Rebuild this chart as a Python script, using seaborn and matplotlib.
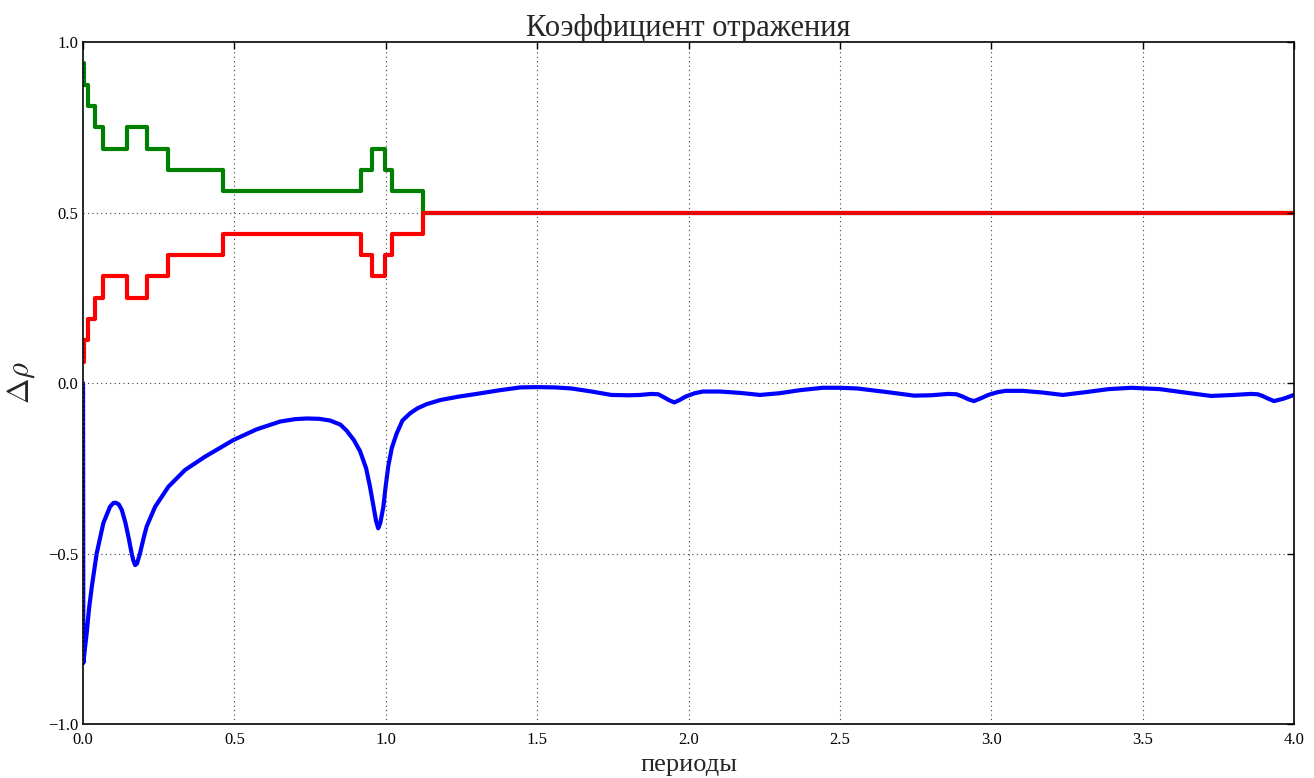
import pandas as pd
import seaborn as sns
import matplotlib
matplotlib.use("Agg")
import matplotlib.pyplot as plt

# step lines (upper / lower bound)
step_x = [0.0, 0.002, 0.0175, 0.04, 0.067, 0.144, 0.21, 0.282, 0.463,
          0.918, 0.953, 0.998, 1.022, 1.124, 4.0]
green_y = [0.9375, 0.875, 0.8125, 0.75, 0.6875, 0.75, 0.6875, 0.625, 0.5625,
           0.625, 0.6875, 0.625, 0.5625, 0.5, 0.5]
red_y = [0.0625, 0.125, 0.1875, 0.25, 0.3125, 0.25, 0.3125, 0.375, 0.4375,
         0.375, 0.3125, 0.375, 0.4375, 0.5, 0.5]

# delta rho curve
blue_x = [0.0, 0.001, 0.006, 0.012, 0.02, 0.029, 0.045, 0.067, 0.089, 0.1, 0.108,
          0.118, 0.128, 0.14, 0.15, 0.16, 0.166, 0.172, 0.178, 0.188, 0.2,
          0.21, 0.238, 0.282, 0.337, 0.403, 0.497, 0.573, 0.651, 0.7, 0.739,
          0.78, 0.816, 0.85, 0.871, 0.895, 0.915, 0.935, 0.948, 0.96, 0.968,
          0.975, 0.982, 0.992, 1.0, 1.008, 1.02, 1.036, 1.055, 1.08, 1.105,
          1.135, 1.18, 1.24, 1.3, 1.37, 1.443, 1.5, 1.56, 1.613, 1.68, 1.745,
          1.8, 1.84, 1.877, 1.9, 1.915, 1.935, 1.953, 1.97, 1.99, 2.02, 2.047,
          2.104, 2.17, 2.236, 2.3, 2.368, 2.443, 2.5, 2.557, 2.65, 2.745, 2.8,
          2.858, 2.885, 2.906, 2.925, 2.943, 2.965, 2.99, 3.02, 3.047, 3.104,
          3.17, 3.236, 3.31, 3.387, 3.462, 3.557, 3.64, 3.726, 3.8, 3.858,
          3.88, 3.896, 3.915, 3.934, 3.965, 4.0]
blue_y = [0.0, -0.821, -0.78, -0.734, -0.66, -0.597, -0.5, -0.411, -0.363,
          -0.352, -0.351, -0.356, -0.372, -0.41, -0.451, -0.497, -0.52,
          -0.534, -0.53, -0.5, -0.455, -0.421, -0.363, -0.304, -0.255,
          -0.216, -0.167, -0.136, -0.113, -0.106, -0.104, -0.105, -0.11,
          -0.122, -0.14, -0.168, -0.2, -0.25, -0.305, -0.365, -0.405, -0.426,
          -0.41, -0.363, -0.3, -0.245, -0.19, -0.148, -0.11, -0.089, -0.074,
          -0.062, -0.05, -0.04, -0.032, -0.022, -0.013, -0.012, -0.013,
          -0.016, -0.025, -0.035, -0.036, -0.035, -0.032, -0.033, -0.04,
          -0.05, -0.057, -0.05, -0.04, -0.03, -0.025, -0.025, -0.029, -0.035,
          -0.03, -0.021, -0.014, -0.014, -0.016, -0.026, -0.037, -0.036,
          -0.032, -0.033, -0.04, -0.048, -0.053, -0.045, -0.035, -0.027,
          -0.023, -0.023, -0.028, -0.035, -0.027, -0.018, -0.014, -0.018,
          -0.028, -0.038, -0.035, -0.032, -0.033, -0.038, -0.046, -0.053,
          -0.046, -0.035]

steps = pd.DataFrame({"x": step_x, "green": green_y, "red": red_y})
curve = pd.DataFrame({"x": blue_x, "y": blue_y})

sns.set_style("white")
plt.rcParams["font.family"] = ["Liberation Serif", "DejaVu Serif"]
plt.rcParams["mathtext.fontset"] = "cm"
plt.rcParams["axes.axisbelow"] = False

fig = plt.figure(figsize=(13.14, 7.78), dpi=100)
ax = fig.add_axes([0.0632, 0.0694, 0.9216, 0.8766])

sns.lineplot(data=curve, x="x", y="y", ax=ax, color="b", lw=3,
             estimator=None, sort=False)
sns.lineplot(data=steps, x="x", y="green", ax=ax, color="g", lw=3,
             drawstyle="steps-post", estimator=None, sort=False)
sns.lineplot(data=steps, x="x", y="red", ax=ax, color="r", lw=3,
             drawstyle="steps-post", estimator=None, sort=False)

ax.set_xlim(0, 4)
ax.set_ylim(-1, 1)
ax.set_xticks([0, 0.5, 1.0, 1.5, 2.0, 2.5, 3.0, 3.5, 4.0])
ax.set_yticks([-1.0, -0.5, 0.0, 0.5, 1.0])
ax.grid(True, color="0.25", linestyle=(0, (1, 3)), lw=0.8)
ax.tick_params(direction="in", length=5, width=1, top=True, right=True,
               labelsize=12, colors="k")
ax.tick_params(axis="x", pad=6)
for s in ax.spines.values():
    s.set_color("k")
    s.set_linewidth(1.2)

ax.set_title("Коэффициент отражения", fontsize=22, pad=4)
ax.set_xlabel("периоды", fontsize=19, labelpad=4)
ax.set_ylabel(r"$\Delta\rho$", fontsize=22, labelpad=8)

fig.savefig("out.png", dpi=100)
